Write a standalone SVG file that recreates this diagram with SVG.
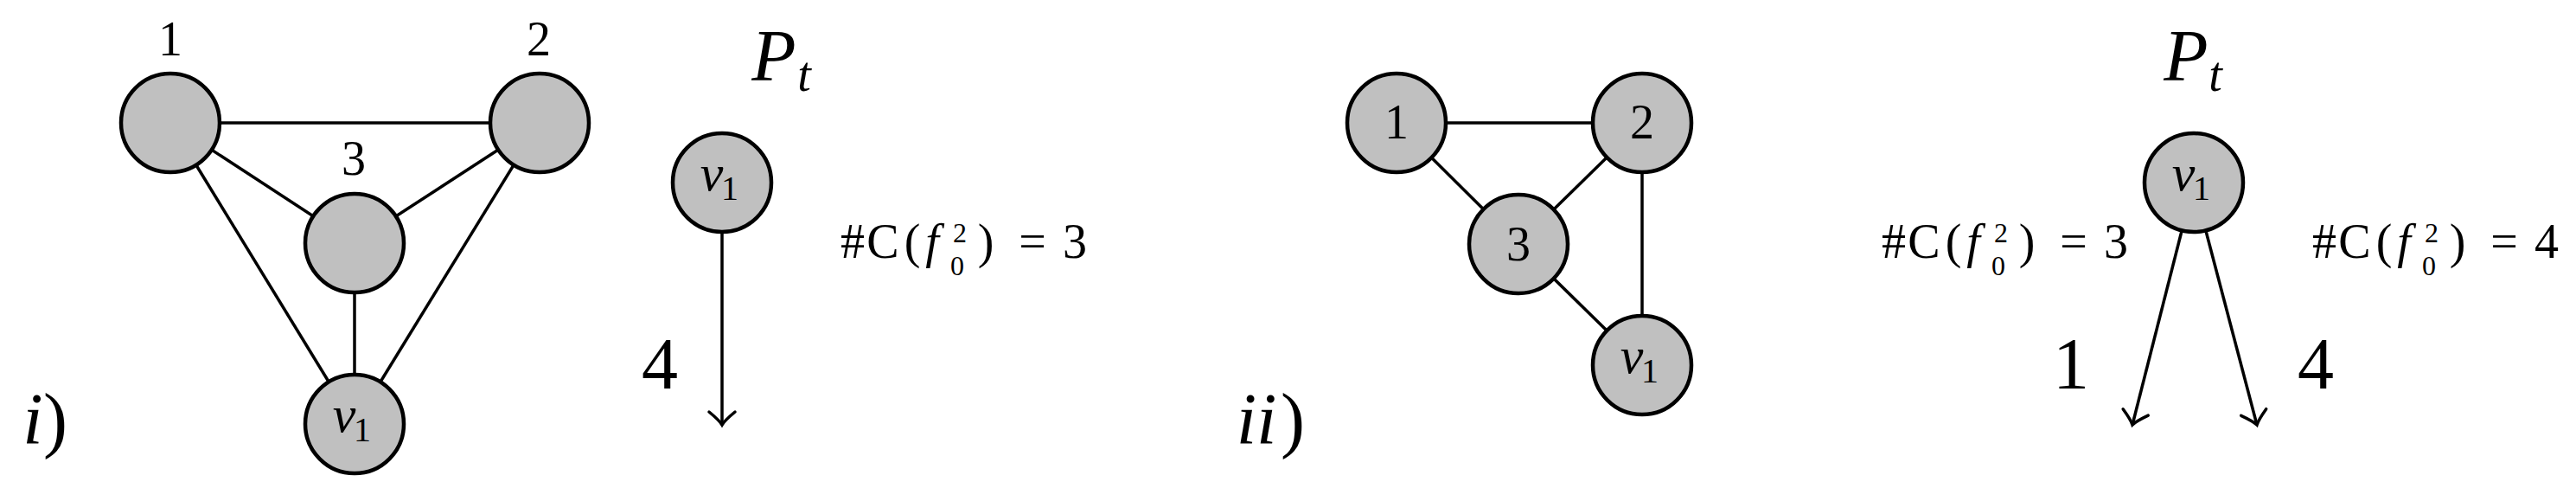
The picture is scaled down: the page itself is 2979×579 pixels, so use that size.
<svg xmlns="http://www.w3.org/2000/svg" width="2979" height="579" viewBox="0 0 2979 579">
<style>
.node{fill:#c0c0c0;stroke:#000;stroke-width:4.5}
.edge{stroke:#000;stroke-width:3.5;fill:none}
.arrow{stroke:#000;stroke-width:3.5;fill:none;marker-end:url(#ah)}
text{font-family:"Liberation Serif","DejaVu Serif",serif;fill:#000;text-anchor:middle}
.lbl{font-size:56px}
.big{font-size:84px}
.it{font-style:italic}
.sub{font-size:40px}
.sub2{font-size:32px;font-style:normal}
.v{font-size:60px;font-style:italic}
</style>
<defs>
<marker id="ah" markerUnits="userSpaceOnUse" viewBox="-20 -20 25 40" markerWidth="25" markerHeight="40" refX="0" refY="0" orient="auto" overflow="visible">
<path d="M -15,-15 Q -5,-3 0,0 Q -5,3 -15,15" stroke="#000" stroke-width="3.5" fill="none" stroke-linecap="round"/>
</marker>
</defs>
<rect width="2979" height="579" fill="#fff"/>

<g id="connectors">
<line class="edge" x1="197" y1="142" x2="624" y2="142"/>
<line class="edge" x1="197" y1="142" x2="410" y2="281"/>
<line class="edge" x1="624" y1="142" x2="410" y2="281"/>
<line class="edge" x1="197" y1="142" x2="410" y2="490"/>
<line class="edge" x1="624" y1="142" x2="410" y2="490"/>
<line class="edge" x1="410" y1="281" x2="410" y2="490"/>
<line class="arrow" x1="835" y1="268" x2="835" y2="491"/>
<line class="edge" x1="1615" y1="142" x2="1899" y2="142"/>
<line class="edge" x1="1615" y1="142" x2="1756" y2="282"/>
<line class="edge" x1="1899" y1="142" x2="1756" y2="282"/>
<line class="edge" x1="1899" y1="142" x2="1899" y2="422"/>
<line class="edge" x1="1756" y1="282" x2="1899" y2="422"/>
<line class="arrow" x1="2523" y1="267" x2="2466" y2="491"/>
<line class="arrow" x1="2551" y1="267" x2="2610" y2="491"/>
</g>

<g id="panel-i-label"><text class="big" y="513"><tspan class="it" x="38">i</tspan><tspan x="64">)</tspan></text></g>
<g id="i-node1"><circle class="node" cx="197" cy="142" r="57"/><text class="lbl" x="197" y="64">1</text></g>
<g id="i-node2"><circle class="node" cx="624" cy="142" r="57"/><text class="lbl" x="623" y="64">2</text></g>
<g id="i-node3"><circle class="node" cx="410" cy="281" r="57"/><text class="lbl" x="409" y="202">3</text></g>
<g id="i-nodev1"><circle class="node" cx="410" cy="490" r="57"/><text class="lbl"><tspan class="v" x="398" y="499">v</tspan><tspan class="sub" x="419" y="510">1</tspan></text></g>

<g id="i-Pt"><text class="big"><tspan class="it" x="895" y="93">P</tspan><tspan class="it" style="font-size:56px" x="930" y="105">t</tspan></text></g>
<g id="i-tree-v1"><circle class="node" cx="835" cy="211" r="57"/><text class="lbl"><tspan class="v" x="823" y="220">v</tspan><tspan class="sub" x="844" y="231">1</tspan></text></g>
<g id="i-edge-label"><text class="big" x="763" y="449">4</text></g>
<g id="i-count">
<text class="lbl" y="298"><tspan x="986">#</tspan><tspan x="1021">C</tspan><tspan x="1055">(</tspan><tspan class="it" x="1078">f</tspan><tspan class="sub2" x="1110" y="280">2</tspan><tspan class="sub2" x="1107" y="318">0</tspan><tspan x="1140" y="298">)</tspan><tspan x="1194">=</tspan><tspan x="1243">3</tspan></text>
</g>

<g id="panel-ii-label"><text class="big" y="513"><tspan class="it" x="1453">ii</tspan><tspan x="1495">)</tspan></text></g>
<g id="ii-node1"><circle class="node" cx="1615" cy="142" r="57"/><text class="lbl" x="1615" y="160">1</text></g>
<g id="ii-node2"><circle class="node" cx="1899" cy="142" r="57"/><text class="lbl" x="1899" y="160">2</text></g>
<g id="ii-node3"><circle class="node" cx="1756" cy="282" r="57"/><text class="lbl" x="1756" y="301">3</text></g>
<g id="ii-nodev1"><circle class="node" cx="1899" cy="422" r="57"/><text class="lbl"><tspan class="v" x="1887" y="431">v</tspan><tspan class="sub" x="1908" y="442">1</tspan></text></g>

<g id="ii-Pt"><text class="big"><tspan class="it" x="2528" y="93">P</tspan><tspan class="it" style="font-size:56px" x="2562" y="105">t</tspan></text></g>
<g id="ii-tree-v1"><circle class="node" cx="2537" cy="211" r="57"/><text class="lbl"><tspan class="v" x="2525" y="220">v</tspan><tspan class="sub" x="2546" y="231">1</tspan></text></g>
<g id="ii-edge-labels"><text class="big" x="2395" y="449">1</text><text class="big" x="2678" y="449">4</text></g>
<g id="ii-count-left">
<text class="lbl" y="298"><tspan x="2190">#</tspan><tspan x="2225">C</tspan><tspan x="2259">(</tspan><tspan class="it" x="2282">f</tspan><tspan class="sub2" x="2314" y="280">2</tspan><tspan class="sub2" x="2311" y="318">0</tspan><tspan x="2344" y="298">)</tspan><tspan x="2398">=</tspan><tspan x="2447">3</tspan></text>
</g>
<g id="ii-count-right">
<text class="lbl" y="298"><tspan x="2688">#</tspan><tspan x="2723">C</tspan><tspan x="2757">(</tspan><tspan class="it" x="2780">f</tspan><tspan class="sub2" x="2812" y="280">2</tspan><tspan class="sub2" x="2809" y="318">0</tspan><tspan x="2842" y="298">)</tspan><tspan x="2896">=</tspan><tspan x="2945">4</tspan></text>
</g>
</svg>
